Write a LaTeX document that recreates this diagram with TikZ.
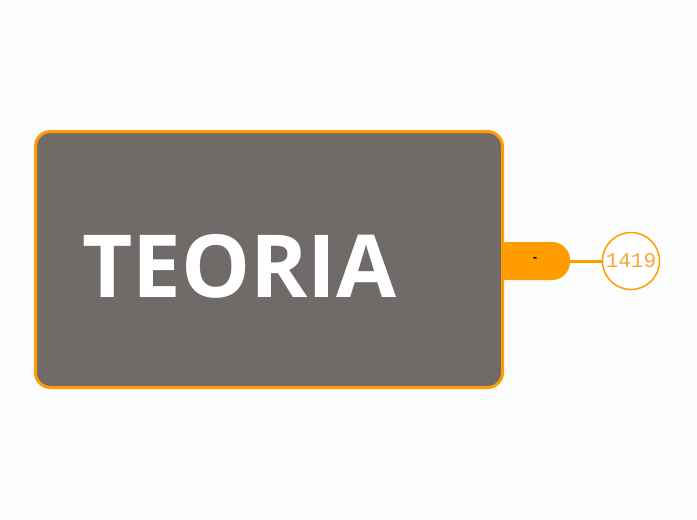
\documentclass[tikz,border=0pt]{standalone}
\usepackage{fontspec}
\setmainfont{Open Sans}
\newfontfamily\monof{Liberation Mono}
\definecolor{bg}{HTML}{FCFCFC}
\definecolor{boxfill}{HTML}{706A69}
\definecolor{orng}{HTML}{FF9C00}
\definecolor{lorng}{HTML}{F7A935}
\tikzset{
  mainbox/.style={draw=orng, line width=3pt, fill=boxfill, rounded corners=15pt, minimum width=467pt, minimum height=256pt, inner sep=0pt},
  pill/.style={fill=orng, rounded corners=18pt, minimum width=80pt, minimum height=38pt, inner sep=0pt},
  numcircle/.style={draw=orng, line width=1.5pt, fill=white, circle, minimum size=57pt, inner sep=0pt, text=lorng, font=\monof\fontsize{21}{21}\selectfont},
  conn/.style={draw=orng, line width=3pt}
}
\begin{document}
\begin{tikzpicture}[x=1pt,y=-1pt]
\fill[bg] (0,0) rectangle (697,520);
\useasboundingbox (0,0) rectangle (697,520);
\node[pill] (p) at (530,261) {};
\node[text=black, font=\bfseries\fontsize{12}{12}\selectfont, inner sep=0pt] at (535,259.5) (dash) {-};
\node[mainbox] (m) at (269,259.5) {};
\node[font=\bfseries\fontsize{87}{87}\selectfont, text=white, anchor=base west, inner sep=0pt] (t) at (82,297) {TEORIA};
\node[numcircle] (c) at (631,261) {\raisebox{-1pt}{1419}};
\draw[conn] (p.east) -- (c.west);
\end{tikzpicture}
\end{document}
